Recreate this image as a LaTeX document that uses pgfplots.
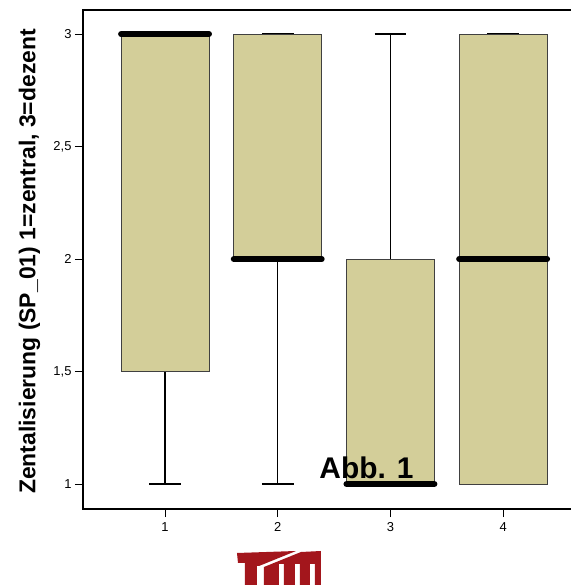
\documentclass[border=0pt]{standalone}
\usepackage{pgfplots}
\pgfplotsset{compat=1.18}
\usepgfplotslibrary{statistics}
\usepackage{fontspec}
\setmainfont{Liberation Sans}
\definecolor{boxfill}{RGB}{211,206,153}
\definecolor{tumred}{RGB}{163,22,28}
\begin{document}
\begin{tikzpicture}
\useasboundingbox (-83bp,-76bp) rectangle (488bp,509bp);
\begin{axis}[
  at={(0,0)}, anchor=south west,
  scale only axis, width=490bp, height=499bp,
  xmin=0.272, xmax=4.62, ymin=0.889, ymax=3.107,
  xtick={1,2,3,4}, xticklabels={1,2,3,4},
  ytick={1,1.5,2,2.5,3}, yticklabels={1,{1,5},2,{2,5},3},
  xtick pos=left, ytick pos=left,
  tick align=outside, major tick length=8bp,
  tick style={black, line width=0.9pt},
  axis line style={black, line width=1.2pt},
  ticklabel style={font=\fontsize{13}{13}\selectfont},
  xticklabel style={yshift=-2bp},
  ylabel={Zentalisierung (SP\_01) 1=zentral, 3=dezent},
  ylabel style={font=\fontsize{23}{23}\selectfont\bfseries, at={(axis description cs:-0.109,0.496)}, anchor=center},
  boxplot/draw direction=y,
  boxplot/every box/.style={fill=boxfill, draw=black!75, line width=0.9pt},
  boxplot/every whisker/.style={black, line width=1.5pt},
  boxplot/every median/.style={black, line width=6bp, line cap=round},
]
\addplot[black, boxplot prepared={lower whisker=1, lower quartile=1.5, median=3, upper quartile=3, upper whisker=3, draw position=1, box extend=0.78, whisker extend=0.28}] coordinates {};
\addplot[black, boxplot prepared={lower whisker=1, lower quartile=2, median=2, upper quartile=3, upper whisker=3, draw position=2, box extend=0.78, whisker extend=0.28}] coordinates {};
\addplot[black, boxplot prepared={lower whisker=1, lower quartile=1, median=1, upper quartile=2, upper whisker=3, draw position=3, box extend=0.78, whisker extend=0.28}] coordinates {};
\addplot[black, boxplot prepared={lower whisker=1, lower quartile=1, median=2, upper quartile=3, upper whisker=3, draw position=4, box extend=0.78, whisker extend=0.28}] coordinates {};
\end{axis}
\begin{scope}[x=1bp,y=-1bp,shift={(-83bp,509bp)}]
\node[anchor=base, font=\fontsize{30}{30}\selectfont\bfseries, inner sep=0pt] at (366.5,479) {Abb. 1};
\fill[tumred] (237,553)--(296,551)--(259,566)--(257,566)--(257,586)--(245,586)--(245,563)--(238,563)--cycle;
\fill[tumred] (264,567)--(301,552)--(321,551)--(321,586)--(315,586)--(315,564)--(310,564)--(310,586)--(300,586)--(300,564)--(295,564)--(295,586)--(284,586)--(284,564)--(279,564)--(279,586)--(264,586)--cycle;
\end{scope}
\end{tikzpicture}
\end{document}
